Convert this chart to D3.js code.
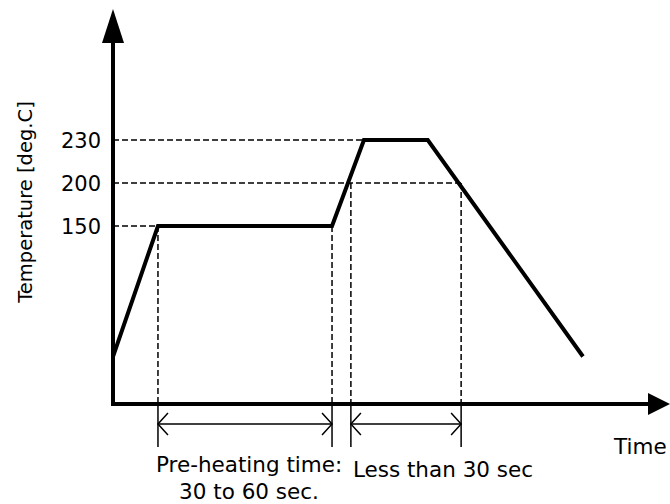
<!DOCTYPE html>
<meta charset="utf-8">
<style>
    body { margin: 0; background: #fff; }
    text {
        font-family: "DejaVu Sans", sans-serif;
        fill: #000;
    }
    .profile {
        fill: none;
        stroke: #000;
        stroke-width: 4px;
        stroke-linejoin: miter;
    }
    .axis-line {
        stroke: #000;
        stroke-width: 4px;
    }
    .guide {
        stroke: #000;
        stroke-width: 1.5px;
        stroke-dasharray: 6,3;
    }
    .span {
        stroke: #000;
        stroke-width: 1.5px;
        fill: none;
    }
</style>
<body>
<script src="https://cdn.jsdelivr.net/npm/d3@7"></script>
<script>

// reflow profile (time in seconds, schematic)
const profileTime = [0, 15.5, 75.5, 86.5, 108.5, 162];
const profileTemp = [40, 150, 150, 230, 230, 40];

// temperature levels marked on the axis
const tempTicks = [150, 200, 230];

// time spans shown under the axis
const spans = [
    { from: 15.5, to: 75.5, level: 150, label: ["Pre-heating time:", "30 to 60 sec."] },
    { from: 82, to: 120, level: 200, label: ["Less than 30 sec"] }
];

// dashed guides to the axis: [time where it meets the curve, temperature]
const hGuides = [[15.5, 150], [120, 200], [86.5, 230]];

const width = 670;
const height = 504;
const x0 = 113;     // y axis position
const y0 = 404;     // x axis position

const x = d3.scaleLinear().domain([0, 192]).range([x0, 670]);
// schematic (non-uniform) temperature scale
const y = d3.scaleLinear().domain([0, 150, 200, 230]).range([y0, 226, 183, 140]);

const svg = d3.select("body").append("svg")
    .attr("width", width)
    .attr("height", height);

// dashed horizontal guides
svg.selectAll(".hguide")
    .data(hGuides)
    .enter().append("line")
    .attr("class", "guide")
    .attr("x1", x0)
    .attr("x2", d => x(d[0]))
    .attr("y1", d => y(d[1]))
    .attr("y2", d => y(d[1]));

// dashed vertical guides
const vGuides = [];
spans.forEach(s => {
    vGuides.push([s.from, s.level]);
    vGuides.push([s.to, s.level]);
});
svg.selectAll(".vguide")
    .data(vGuides)
    .enter().append("line")
    .attr("class", "guide")
    .attr("x1", d => x(d[0]))
    .attr("x2", d => x(d[0]))
    .attr("y1", d => y(d[1]))
    .attr("y2", y0);

// profile
const line = d3.line()
    .x(d => x(d[0]))
    .y(d => y(d[1]));

svg.append("path")
    .attr("class", "profile")
    .attr("d", line(d3.zip(profileTime, profileTemp)));

// axes with arrow heads
svg.append("line")
    .attr("class", "axis-line")
    .attr("x1", x0).attr("y1", y0 + 2)
    .attr("x2", x0).attr("y2", 40);
svg.append("path")
    .attr("d", `M${x0},9L${x0 - 11},43L${x0 + 11},43Z`);

svg.append("line")
    .attr("class", "axis-line")
    .attr("x1", x0 - 2).attr("y1", y0)
    .attr("x2", 652).attr("y2", y0);
svg.append("path")
    .attr("d", `M670,${y0}L648,${y0 - 11}L648,${y0 + 11}Z`);

// tick labels
const yAxis = d3.axisLeft(y)
    .tickValues(tempTicks)
    .tickSize(0)
    .tickPadding(12);

svg.append("g")
    .attr("transform", `translate(${x0},0)`)
    .call(yAxis)
    .call(g => g.select(".domain").remove())
    .call(g => g.selectAll("text")
        .attr("font-family", "DejaVu Sans")
        .attr("font-size", 21)
        .attr("dy", "0.36em"));

// span arrows below the axis
const arrowLen = 10, arrowHalf = 11, spanY = 424;
spans.forEach(s => {
    const a = x(s.from), b = x(s.to);
    svg.append("line").attr("class", "span")
        .attr("x1", a).attr("x2", a).attr("y1", y0).attr("y2", 447);
    svg.append("line").attr("class", "span")
        .attr("x1", b).attr("x2", b).attr("y1", y0).attr("y2", 447);
    svg.append("line").attr("class", "span")
        .attr("x1", a).attr("x2", b).attr("y1", spanY).attr("y2", spanY);
    svg.append("path").attr("class", "span")
        .attr("d", `M${a + arrowLen},${spanY - arrowHalf}L${a},${spanY}L${a + arrowLen},${spanY + arrowHalf}`);
    svg.append("path").attr("class", "span")
        .attr("d", `M${b - arrowLen},${spanY - arrowHalf}L${b},${spanY}L${b - arrowLen},${spanY + arrowHalf}`);
});

// span labels
svg.append("text")
    .attr("x", x(spans[0].from) - 2)
    .attr("y", 472)
    .attr("font-size", 21.5)
    .text(spans[0].label[0]);
svg.append("text")
    .attr("x", 249)
    .attr("y", 499)
    .attr("text-anchor", "middle")
    .attr("font-size", 21.5)
    .text(spans[0].label[1]);
svg.append("text")
    .attr("x", x(spans[1].from) + 2)
    .attr("y", 477)
    .attr("font-size", 21.5)
    .text(spans[1].label[0]);

// axis titles
svg.append("text")
    .attr("x", 614)
    .attr("y", 454)
    .attr("font-size", 21.5)
    .text("Time");

svg.append("text")
    .attr("transform", "translate(32,202) rotate(-90)")
    .attr("text-anchor", "middle")
    .attr("font-size", 19.5)
    .text("Temperature [deg.C]");

</script>
</body>
</html>
